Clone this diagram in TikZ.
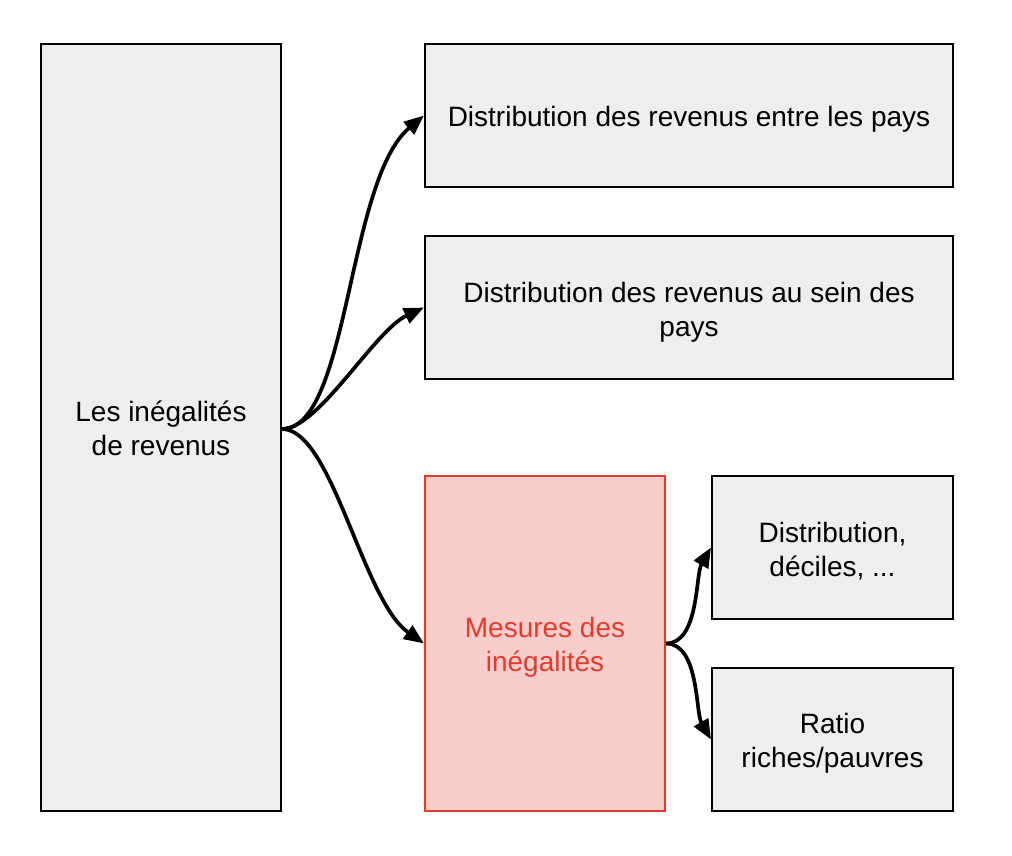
\documentclass[tikz,border=0pt]{standalone}
\usepackage{fontspec}
\setmainfont{Liberation Sans}
\usetikzlibrary{arrows.meta}
\definecolor{boxgrey}{HTML}{EEEEEE}
\definecolor{redfill}{HTML}{F8CECC}
\definecolor{redline}{HTML}{E53B2C}
\newcommand\lowerstrut{\rule{0pt}{28pt}}
\newcommand\lowerstrutb{\rule{0pt}{30pt}}
\newcommand\lowerstrutc{\rule{0pt}{22pt}}
\tikzset{
  box/.style={draw=black, line width=2pt, fill=boxgrey, inner sep=0pt, align=center,
    font=\fontsize{28}{34}\selectfont},
  redbox/.style={box, draw=redline, fill=redfill, text=redline},
  link/.style={line width=3.7pt, -{Triangle[length=20pt,width=16pt]}, out=0, out looseness=0.5, in looseness=0.75}
}
\begin{document}
\begin{tikzpicture}[x=1pt,y=-1pt]
\useasboundingbox (0,0) rectangle (1012,856);
\node[box, minimum width=240pt, minimum height=767pt] (root) at (161,427.5) {\lowerstrutc Les inégalités\\de revenus};
\node[box, minimum width=528pt, minimum height=143pt] (between) at (689,115.5) {\lowerstrut Distribution des revenus entre les pays};
\node[box, minimum width=528pt, minimum height=143pt] (within) at (689,307.5) {\lowerstrutb Distribution des revenus au sein des\\pays};
\node[redbox, minimum width=240pt, minimum height=335pt] (measure) at (545,643.5) {\lowerstrut Mesures des\\inégalités};
\node[box, minimum width=241pt, minimum height=143pt] (dist) at (832.5,547.5) {\lowerstrut Distribution,\\déciles, ...};
\node[box, minimum width=241pt, minimum height=143pt] (ratio) at (832.5,739.5) {\lowerstrut Ratio\\riches/pauvres};
\coordinate (src) at (282,429);
\draw[link, in=220] (src) to (between.west);
\draw[link, in=205] (src) to (within.west);
\draw[link, in=145] (src) to (measure.west);
\draw[link, in=240, out looseness=0.8] (measure.east) to (dist.west);
\draw[link, in=120, out looseness=0.8] (measure.east) to (ratio.west);
\end{tikzpicture}
\end{document}
